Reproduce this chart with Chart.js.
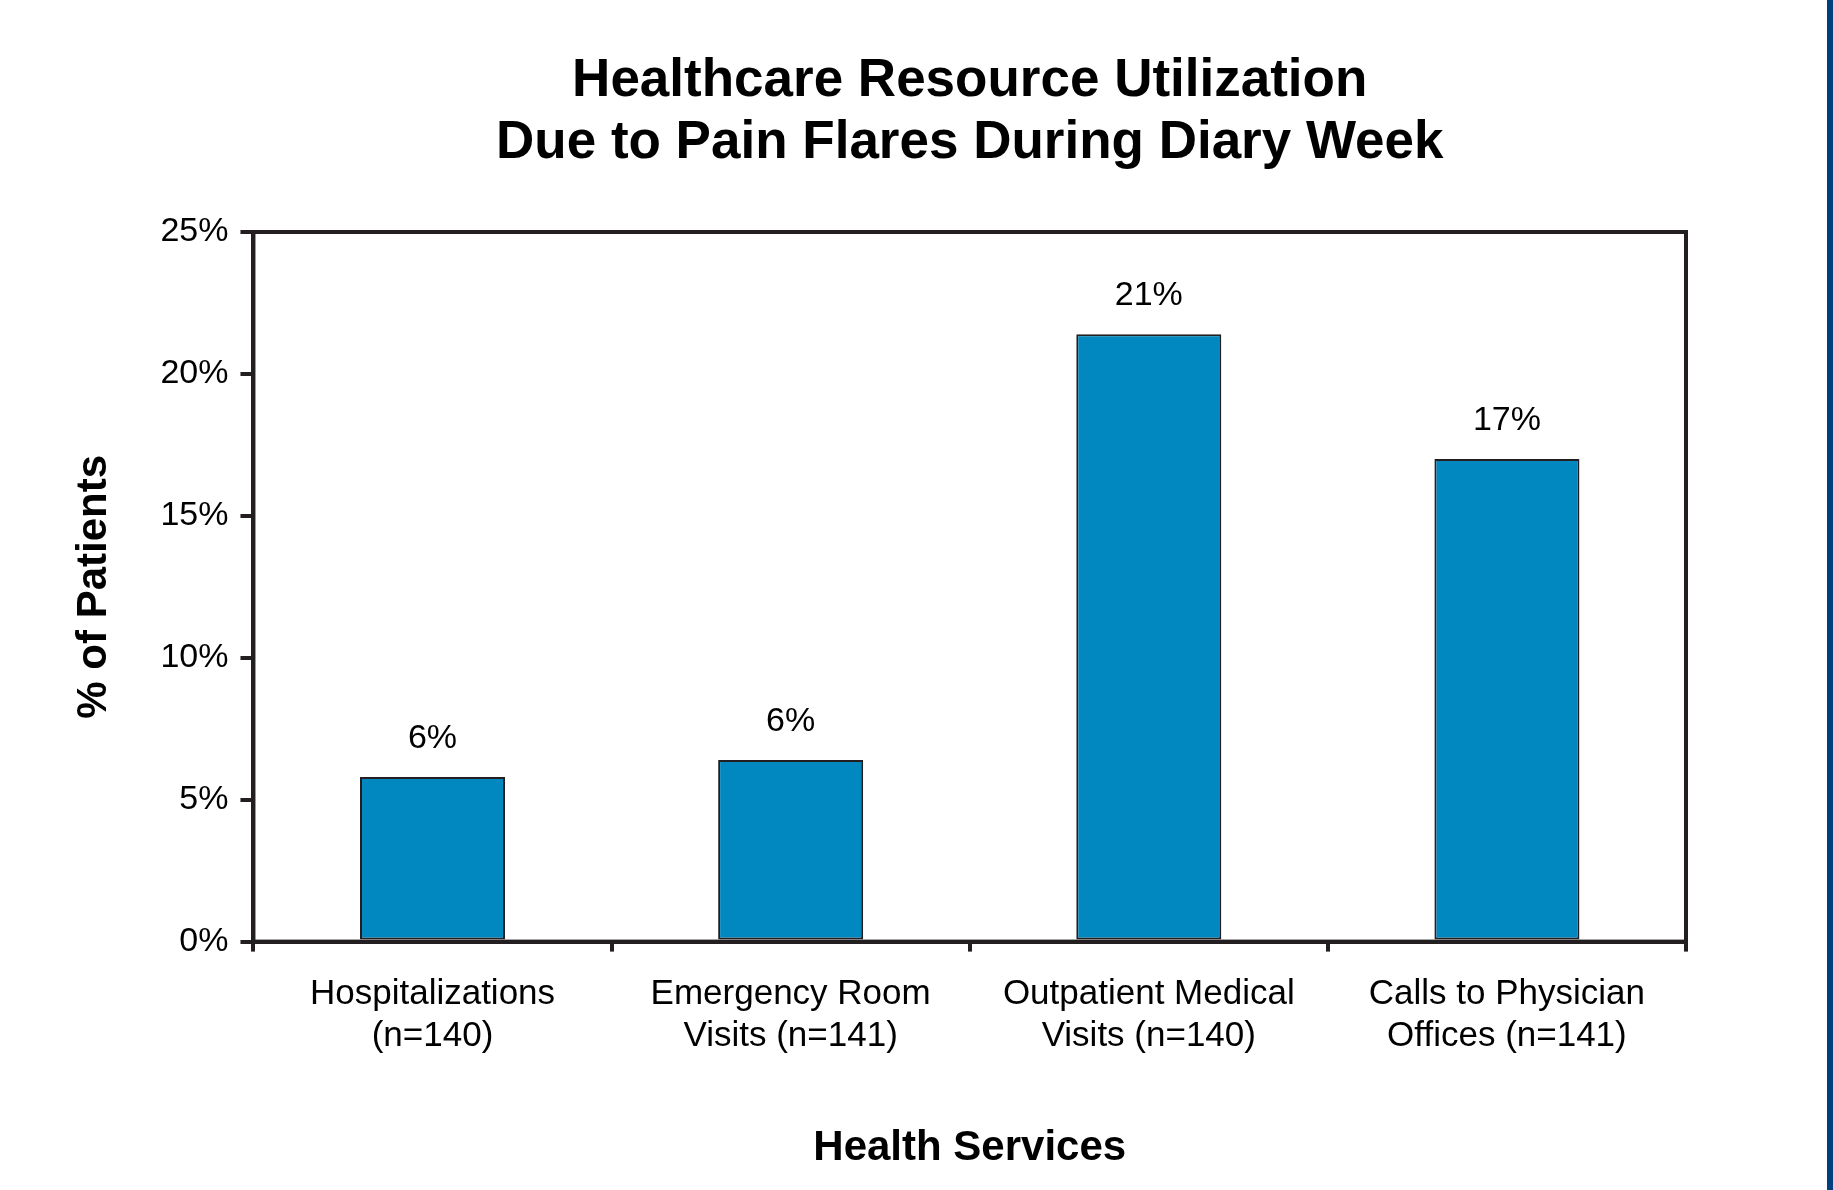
<!DOCTYPE html>
<html>
<head>
<meta charset="utf-8">
<title>Healthcare Resource Utilization</title>
<script src="https://cdn.jsdelivr.net/npm/chart.js@4.4.0/dist/chart.umd.min.js"></script>
<style>
  html, body { margin: 0; padding: 0; background: #fff; }
  #wrap { position: relative; width: 1833px; height: 1190px; overflow: hidden; }
  #edge { position: absolute; top: 0; right: 0; width: 6px; height: 1190px; background: #003f7f; }
</style>
</head>
<body>
<div id="wrap">
  <canvas id="chart" width="1833" height="1190"></canvas>
  <div id="edge"></div>
</div>
<script>
// categories (each one split in two lines like the original)
const services = [
  ['Hospitalizations', '(n=140)'],
  ['Emergency Room', 'Visits (n=141)'],
  ['Outpatient Medical', 'Visits (n=140)'],
  ['Calls to Physician', 'Offices (n=141)']
];
// % of patients
const percentPatients = [5.8, 6.4, 21.4, 17.0];
// the labels printed above the bars
const barLabels = ['6%', '6%', '21%', '17%'];
const yTicks = [0, 5, 10, 15, 20, 25];
const titleLines = ['Healthcare Resource Utilization', 'Due to Pain Flares During Diary Week'];

const INK = '#231f20';
const FONT = '"Liberation Sans", Arial, Helvetica, sans-serif';

// closes the plot box (top + right sides)
const frameBox = {
  id: 'frameBox',
  afterDraw(chart) {
    const { ctx, chartArea: a } = chart;
    ctx.save();
    ctx.strokeStyle = INK;
    ctx.lineWidth = 4;
    ctx.strokeRect(a.left, a.top, a.right - a.left, a.bottom - a.top);
    ctx.restore();
  }
};

// title centred over the plot box, not the whole canvas
const plotTitle = {
  id: 'plotTitle',
  afterDraw(chart) {
    const { ctx, chartArea: a } = chart;
    const cx = (a.left + a.right) / 2;
    ctx.save();
    ctx.fillStyle = '#000';
    ctx.font = 'bold 53px ' + FONT;
    ctx.textAlign = 'center';
    ctx.textBaseline = 'alphabetic';
    titleLines.forEach((t, i) => ctx.fillText(t, cx, a.top - 136 + i * 62));
    ctx.restore();
  }
};

// value text over each bar
const valueLabels = {
  id: 'valueLabels',
  afterDatasetsDraw(chart) {
    const { ctx } = chart;
    const meta = chart.getDatasetMeta(0);
    ctx.save();
    ctx.fillStyle = '#000';
    ctx.font = '34px ' + FONT;
    ctx.textAlign = 'center';
    ctx.textBaseline = 'alphabetic';
    meta.data.forEach((bar, i) => {
      ctx.fillText(barLabels[i], bar.x, bar.y - 29);
    });
    ctx.restore();
  }
};

new Chart(document.getElementById('chart').getContext('2d'), {
  type: 'bar',
  data: {
    labels: services,
    datasets: [{
      data: percentPatients,
      backgroundColor: '#0288c1',
      borderColor: INK,
      borderWidth: 2,
      borderSkipped: false,
      barPercentage: 0.405,
      categoryPercentage: 1
    }]
  },
  options: {
    responsive: false,
    animation: false,
    layout: { padding: { top: 232, left: 14, right: 147, bottom: 10 } },
    plugins: {
      legend: { display: false },
      tooltip: { enabled: false },
      title: { display: false }
    },
    scales: {
      x: {
        grid: { offset: true, drawOnChartArea: false, drawTicks: true, tickLength: 10, color: INK, lineWidth: 4 },
        border: { display: true, color: INK, width: 4 },
        ticks: { color: '#000', padding: 22, maxRotation: 0, font: { family: FONT, size: 35, lineHeight: 1.2 } },
        title: {
          display: true,
          text: 'Health Services',
          color: '#000',
          font: { family: FONT, size: 42, weight: 'bold', lineHeight: 1.2 },
          padding: { top: 44, bottom: 6 }
        }
      },
      y: {
        min: 0,
        max: 25,
        afterBuildTicks(scale) { scale.ticks = yTicks.map(v => ({ value: v })); },
        grid: { drawOnChartArea: false, drawTicks: true, tickLength: 13, color: INK, lineWidth: 4 },
        border: { display: true, color: INK, width: 4 },
        ticks: { color: '#000', padding: 12, font: { family: FONT, size: 34 }, callback: v => v + '%' },
        title: {
          display: true,
          text: '% of Patients',
          color: '#000',
          font: { family: FONT, size: 42, weight: 'bold', lineHeight: 1.2 },
          padding: { top: 55, bottom: 29 }
        }
      }
    }
  },
  plugins: [frameBox, plotTitle, valueLabels]
});
</script>
</body>
</html>
